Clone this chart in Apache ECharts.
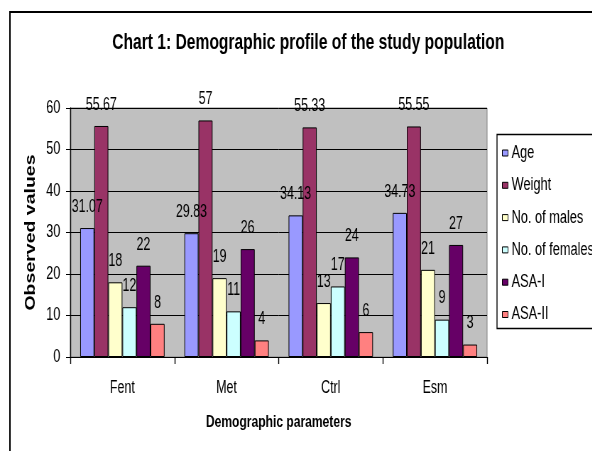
<!DOCTYPE html>
<html>
<head>
<meta charset="utf-8">
<script src="https://cdn.jsdelivr.net/npm/echarts@6/dist/echarts.min.js"></script>
<style>
  html, body { margin: 0; padding: 0; background: #fff; overflow: hidden; }
  #frame { width: 592px; height: 451px; overflow: hidden; position: relative; }
  /* the source picture is squeezed sideways, so the chart is drawn wider and scaled down */
  #chart { width: 834px; height: 451px; transform: scaleX(0.71); transform-origin: 0 0; }
</style>
</head>
<body>
<div id="frame"><div id="chart"></div></div>
<script>
// values
var groups = ['Fent', 'Met', 'Ctrl', 'Esm'];
var seriesNames = ['Age', 'Weight', 'No. of males', 'No. of females', 'ASA-I', 'ASA-II'];
var age = [31.07, 29.83, 34.13, 34.73];
var weight = [55.67, 57, 55.33, 55.55];
var males = [18, 19, 13, 21];
var females = [12, 11, 17, 9];
var asa1 = [22, 26, 24, 27];
var asa2 = [8, 4, 6, 3];
var yTicks = [0, 10, 20, 30, 40, 50, 60];
var colors = ['#9999ff', '#993366', '#ffffcc', '#ccffff', '#660066', '#ff8080'];

var font = '"Liberation Sans", Arial, sans-serif';
var allData = [age, weight, males, females, asa1, asa2];

var chart = echarts.init(document.getElementById('chart'), null, { renderer: 'canvas' });

var series = [];
for (var i = 0; i < seriesNames.length; i++) {
    series.push({
        name: seriesNames[i],
        type: 'bar',
        data: allData[i],
        barGap: '0%',
        barCategoryGap: '19%',
        itemStyle: { color: colors[i], borderColor: '#000', borderWidth: 1 },
        label: {
            show: true,
            position: 'top',
            distance: 12,
            color: '#000',
            fontFamily: font,
            fontSize: 17.5
        }
    });
}

var option = {
    animation: false,
    backgroundColor: '#fff',
    title: {
        text: 'Chart 1: Demographic profile of the study population',
        left: 158,
        top: 32,
        padding: 0,
        textStyle: { fontFamily: font, fontWeight: 'bold', fontSize: 22, color: '#000' }
    },
    legend: {
        orient: 'vertical',
        left: 707,
        top: 144,
        padding: 0,
        itemWidth: 8,
        itemHeight: 6,
        itemGap: 14.3,
        icon: 'rect',
        data: seriesNames,
        itemStyle: { borderColor: '#000', borderWidth: 1 },
        textStyle: { fontFamily: font, fontSize: 18, color: '#000' }
    },
    grid: {
        left: 99,
        right: 148,
        top: 108,
        bottom: 94,
        show: true,
        backgroundColor: '#c0c0c0',
        borderColor: '#808080',
        borderWidth: 1
    },
    xAxis: {
        type: 'category',
        data: groups,
        name: 'Demographic parameters',
        nameLocation: 'middle',
        nameGap: 57,
        nameTextStyle: { fontFamily: font, fontWeight: 'bold', fontSize: 17, color: '#000' },
        axisLine: { lineStyle: { color: '#000', width: 1 } },
        axisTick: { show: true, length: 7, lineStyle: { color: '#000', width: 1.4 } },
        axisLabel: { margin: 22, fontFamily: font, fontSize: 17.5, color: '#000' }
    },
    yAxis: {
        type: 'value',
        min: yTicks[0],
        max: yTicks[yTicks.length - 1],
        interval: 10,
        name: 'Observed values',
        nameLocation: 'middle',
        nameGap: 38,
        nameRotate: 90,
        nameTextStyle: { fontFamily: font, fontWeight: 'bold', fontSize: 19.5, color: '#000' },
        axisLine: { show: true, lineStyle: { color: '#000', width: 1.4 } },
        axisTick: { show: true, length: 6, lineStyle: { color: '#000' } },
        axisLabel: { margin: 14, fontFamily: font, fontSize: 18, color: '#000' },
        splitLine: { show: true, lineStyle: { color: '#000', width: 1 } }
    },
    graphic: [
        {
            type: 'rect',
            shape: { x: 14, y: 12, width: 900, height: 500 },
            style: { fill: null, stroke: '#000', lineWidth: 2 },
            silent: true
        },
        {
            type: 'rect',
            shape: { x: 700, y: 134.5, width: 200, height: 194 },
            style: { fill: '#fff', stroke: '#000', lineWidth: 1.4 },
            silent: true,
            z: -1
        }
    ],
    series: series
};

chart.setOption(option);
</script>
</body>
</html>
